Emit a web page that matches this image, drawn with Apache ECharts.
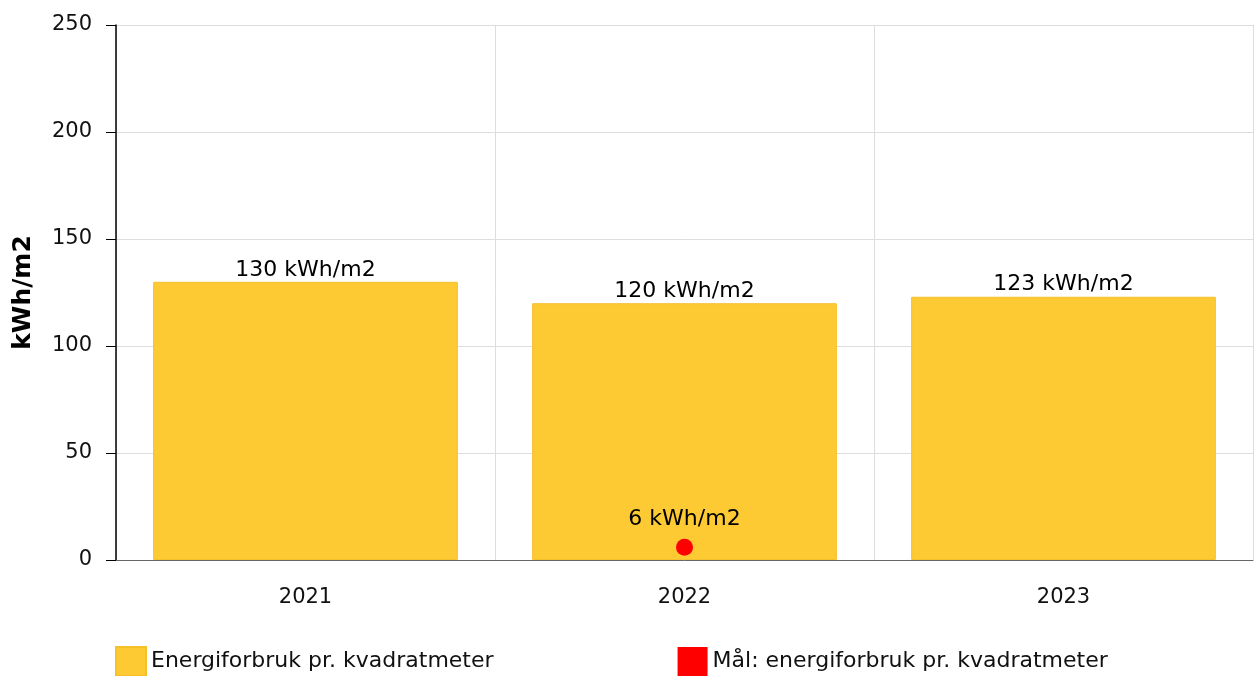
<!DOCTYPE html>
<html>
<head>
<meta charset="utf-8">
<script src="https://cdn.jsdelivr.net/npm/echarts@6/dist/echarts.min.js"></script>
<style>
  html, body { margin: 0; padding: 0; background: #fff; }
  #chart { width: 1255px; height: 676px; }
</style>
</head>
<body>
<div id="chart"></div>
<script>
const years = ['2021', '2022', '2023'];
const forbruk = [130, 120, 123];
const maal = ['-', 6, '-'];
const yTicks = { min: 0, max: 250, interval: 50 };

const font = 'DejaVu Sans, Verdana, sans-serif';
let myChart = echarts.init(document.getElementById('chart'));

let option = {
  animation: false,
  textStyle: { fontFamily: font },
  grid: { left: 116, right: 2, top: 25, bottom: 116 },
  legend: {
    left: 110,
    top: 641,
    itemWidth: 30,
    itemHeight: 29,
    itemGap: 184,
    icon: 'rect',
    textStyle: { fontSize: 22, color: '#111', fontFamily: font },
    data: ['Energiforbruk pr. kvadratmeter', 'Mål: energiforbruk pr. kvadratmeter']
  },
  xAxis: {
    type: 'category',
    data: years,
    axisLine: { lineStyle: { color: '#666', width: 1 } },
    axisTick: { alignWithLabel: true, length: 9, lineStyle: { color: '#ccc' } },
    axisLabel: { fontSize: 21, color: '#111', margin: 27 },
    splitLine: { show: true, lineStyle: { color: '#ddd' } }
  },
  yAxis: {
    type: 'value',
    min: yTicks.min,
    max: yTicks.max,
    interval: yTicks.interval,
    name: 'kWh/m2',
    nameLocation: 'middle',
    nameGap: 80,
    nameTextStyle: { fontSize: 25, fontWeight: 'bold', color: '#000' },
    axisLine: { show: true, lineStyle: { color: '#000', width: 1.5 } },
    axisTick: { show: true, length: 10, lineStyle: { color: '#000' } },
    axisLabel: { fontSize: 21, color: '#111', margin: 24 },
    splitLine: { lineStyle: { color: '#ddd' } }
  },
  series: [
    {
      name: 'Energiforbruk pr. kvadratmeter',
      type: 'bar',
      data: forbruk,
      barCategoryGap: '19.6%',
      itemStyle: { color: '#FDCA33', borderColor: '#F5C12A', borderWidth: 1 },
      label: {
        show: true,
        position: 'top',
        distance: 1,
        fontSize: 22,
        color: '#000',
        formatter: p => p.value + ' kWh/m2'
      }
    },
    {
      name: 'Mål: energiforbruk pr. kvadratmeter',
      type: 'scatter',
      data: maal,
      symbol: 'circle',
      symbolSize: 17,
      z: 5,
      itemStyle: { color: '#FF0000', opacity: 1 },
      label: {
        show: true,
        position: 'top',
        distance: 8,
        fontSize: 22,
        color: '#000',
        formatter: p => p.value + ' kWh/m2'
      }
    }
  ]
};

option && myChart.setOption(option);
</script>
</body>
</html>
